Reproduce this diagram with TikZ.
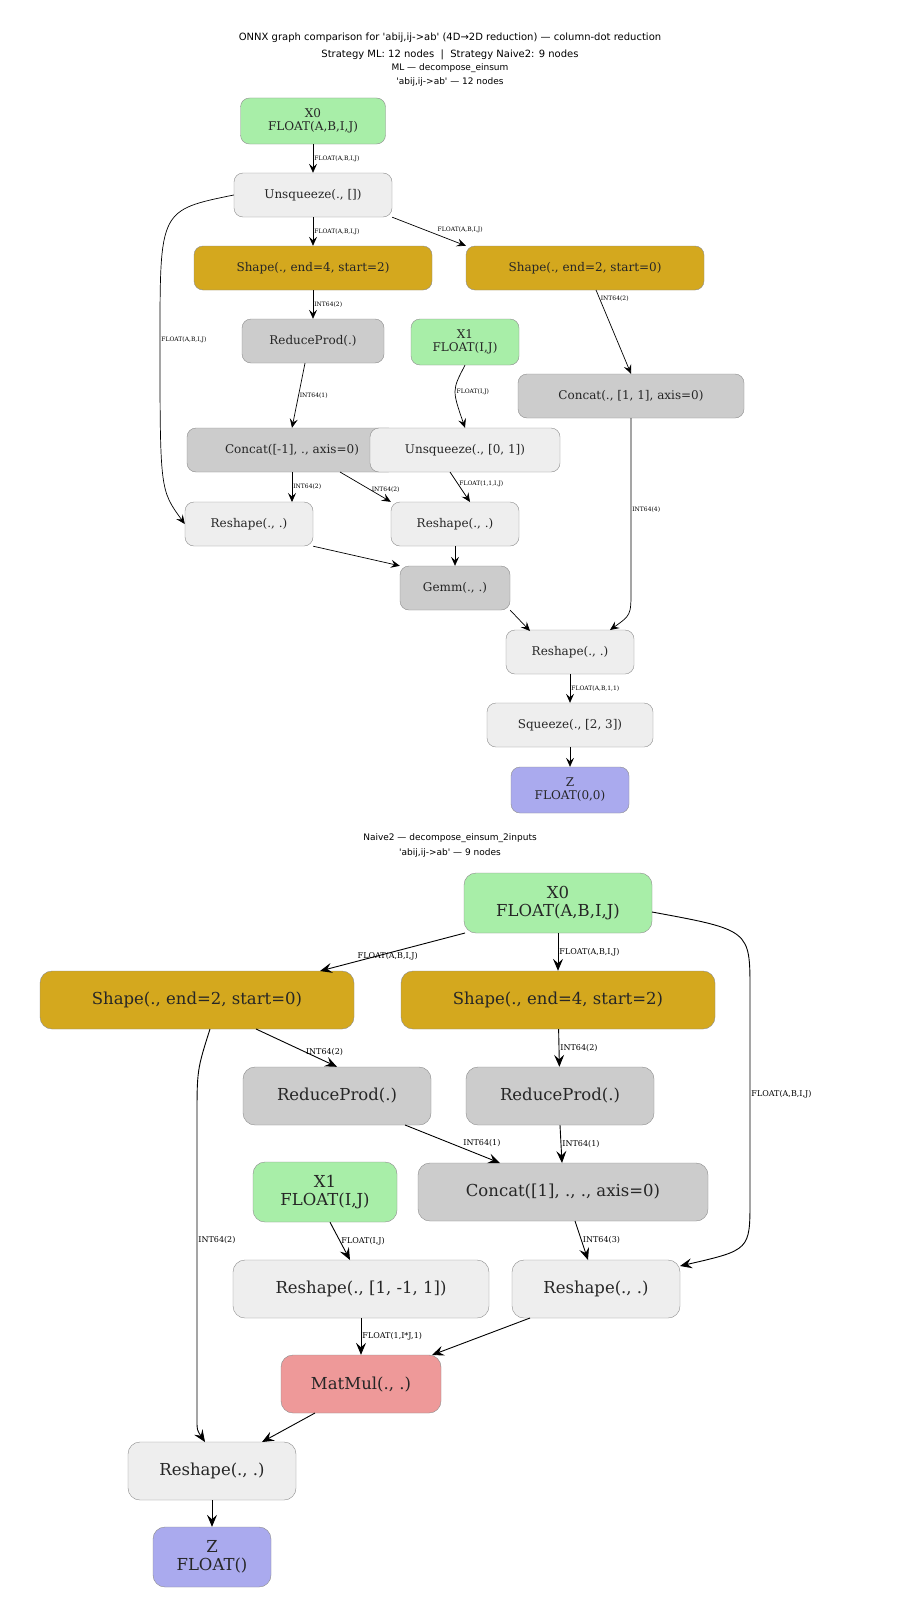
\documentclass[tikz,border=0pt]{standalone}
\usepackage{fontspec}
\setmainfont{DejaVu Serif}
\newfontfamily\ttl{DejaVu Sans}
\usetikzlibrary{arrows.meta}
\definecolor{cg}{HTML}{A8EEA8}
\definecolor{cl}{HTML}{EEEEEE}
\definecolor{cd}{HTML}{CCCCCC}
\definecolor{cy}{HTML}{D4A81E}
\definecolor{cb}{HTML}{AAAAEE}
\definecolor{cr}{HTML}{EE9999}
\begin{document}
\begin{tikzpicture}[x=1pt,y=-1pt,
  nd/.style={draw=black!45,rounded corners=9pt,inner sep=0pt,align=center,font=\fontsize{12}{13}\selectfont,text=black!85},
  ndb/.style={draw=black!45,rounded corners=12pt,inner sep=0pt,align=center,font=\fontsize{16.5}{18}\selectfont,text=black!85},
  ar/.style={-{Stealth[length=9pt,width=8pt,inset=3.5pt]},black,line width=0.7pt},
  arb/.style={-{Stealth[length=12pt,width=10pt,inset=4.5pt]},black,line width=0.9pt},
  el/.style={font=\fontsize{6}{6}\selectfont,inner sep=1pt},
  elb/.style={font=\fontsize{8}{8}\selectfont,inner sep=1pt},
  tt/.style={font=\ttl\fontsize{10}{11}\selectfont,align=center}]
\useasboundingbox[fill=white] (0,0) rectangle (900,1600);
\node[tt] (t1) at (450,38) {ONNX graph comparison for 'abij,ij->ab' (4D→2D reduction) — column-dot reduction};
\node[tt] (t2) at (450,55) {Strategy ML: 12 nodes \ |\ \ Strategy Naive2: 9 nodes};
\node[tt,font=\ttl\fontsize{9}{10}\selectfont] (t3) at (450,68) {ML — decompose\_einsum};
\node[tt,font=\ttl\fontsize{9}{10}\selectfont] (t4) at (450,82) {'abij,ij->ab' — 12 nodes};
\node[tt,font=\ttl\fontsize{9}{10}\selectfont] (t5) at (450,838) {Naive2 — decompose\_einsum\_2inputs};
\node[tt,font=\ttl\fontsize{9}{10}\selectfont] (t6) at (450,853) {'abij,ij->ab' — 9 nodes};
% top
\node[nd,fill=cg,minimum width=145,minimum height=46] (x0) at (313,121) {X0\\FLOAT(A,B,I,J)};
\node[nd,fill=cl,minimum width=158,minimum height=44] (u1) at (313,195) {Unsqueeze(., [])};
\node[nd,fill=cy,minimum width=238,minimum height=44] (s42) at (313,268) {Shape(., end=4, start=2)};
\node[nd,fill=cy,minimum width=238,minimum height=44] (s20) at (585,268) {Shape(., end=2, start=0)};
\node[nd,fill=cd,minimum width=142,minimum height=44] (rp) at (313,341) {ReduceProd(.)};
\node[nd,fill=cg,minimum width=108,minimum height=46] (x1) at (465,342) {X1\\FLOAT(I,J)};
\node[nd,fill=cd,minimum width=226,minimum height=44] (c11) at (631,396) {Concat(., [1, 1], axis=0)};
\node[nd,fill=cd,minimum width=210,minimum height=44] (cm1) at (292,450) {Concat([-1], ., axis=0)};
\node[nd,fill=cl,minimum width=190,minimum height=44] (u01) at (465,450) {Unsqueeze(., [0, 1])};
\node[nd,fill=cl,minimum width=128,minimum height=44] (r1) at (249,524) {Reshape(., .)};
\node[nd,fill=cl,minimum width=128,minimum height=44] (r2) at (455,524) {Reshape(., .)};
\node[nd,fill=cd,minimum width=110,minimum height=44] (gm) at (455,588) {Gemm(., .)};
\node[nd,fill=cl,minimum width=128,minimum height=44] (r3) at (570,652) {Reshape(., .)};
\node[nd,fill=cl,minimum width=166,minimum height=44] (sq) at (570,725) {Squeeze(., [2, 3])};
\node[nd,fill=cb,minimum width=118,minimum height=46] (z) at (570,790) {Z\\FLOAT(0,0)};
\draw[ar] (x0) -- node[el,right]{FLOAT(A,B,I,J)} (u1);
\draw[ar] (u1) -- node[el,right]{FLOAT(A,B,I,J)} (s42);
\draw[ar] (u1.south east) -- node[el,above right,pos=0.6]{FLOAT(A,B,I,J)} (s20.north west);
\draw[ar] (u1.west) .. controls (160,210) .. (160,340) node[el,right]{FLOAT(A,B,I,J)} .. controls (160,490) .. (r1.west);
\draw[ar] (s42) -- node[el,right]{INT64(2)} (rp);
\draw[ar] (596,290) -- node[el,right,pos=0.1]{INT64(2)} (c11.north);
\draw[ar] (rp.south) ++(-8,0) -- node[el,right]{INT64(1)} (cm1.north);
\draw[ar] (x1.south) .. controls (452,390) .. node[el,right]{FLOAT(I,J)} (u01.north);
\draw[ar] (cm1.south) ++(0,0) (292,472) -- node[el,right]{INT64(2)} (292,502);
\draw[ar] (340,472) -- node[el,right,pos=0.6]{INT64(2)} (r2.north west);
\draw[ar] (450,472) -- node[el,right,pos=0.4]{FLOAT(1,1,I,J)} (470,502);
\draw[ar] (r1.south east) -- (gm.north west);
\draw[ar] (r2) -- (gm);
\draw[ar] (gm.south east) -- (530,631);
\draw[ar] (c11.south) -- (631,510) node[el,right]{INT64(4)} -- (631,590) .. controls (631,615) .. (610,630);
\draw[ar] (r3) -- node[el,right]{FLOAT(A,B,1,1)} (sq);
\draw[ar] (sq) -- (z);
% bottom
\node[ndb,fill=cg,minimum width=188,minimum height=60] (bx0) at (558,903) {X0\\FLOAT(A,B,I,J)};
\node[ndb,fill=cy,minimum width=314,minimum height=58] (bs20) at (197,1000) {Shape(., end=2, start=0)};
\node[ndb,fill=cy,minimum width=314,minimum height=58] (bs42) at (558,1000) {Shape(., end=4, start=2)};
\node[ndb,fill=cd,minimum width=188,minimum height=58] (brp1) at (337,1096) {ReduceProd(.)};
\node[ndb,fill=cd,minimum width=188,minimum height=58] (brp2) at (560,1096) {ReduceProd(.)};
\node[ndb,fill=cg,minimum width=144,minimum height=60] (bx1) at (325,1192) {X1\\FLOAT(I,J)};
\node[ndb,fill=cd,minimum width=290,minimum height=58] (bc) at (563,1192) {Concat([1], ., ., axis=0)};
\node[ndb,fill=cl,minimum width=256,minimum height=58] (br1) at (361,1289) {Reshape(., [1, -1, 1])};
\node[ndb,fill=cl,minimum width=168,minimum height=58] (br2) at (596,1289) {Reshape(., .)};
\node[ndb,fill=cr,minimum width=160,minimum height=58] (bmm) at (361,1384) {MatMul(., .)};
\node[ndb,fill=cl,minimum width=168,minimum height=58] (br3) at (212,1471) {Reshape(., .)};
\node[ndb,fill=cb,minimum width=118,minimum height=60] (bz) at (212,1557) {Z\\FLOAT()};
\draw[arb] (465,933) -- node[elb,above right,pos=0.75]{FLOAT(A,B,I,J)} (320,971);
\draw[arb] (bx0) -- node[elb,right]{FLOAT(A,B,I,J)} (bs42);
\draw[arb] (652,912) .. controls (750,930) .. (750,990) -- (750,1094) node[elb,right]{FLOAT(A,B,I,J)} -- (750,1200) .. controls (750,1250) .. (680,1266);
\draw[arb] (256,1029) -- node[elb,right,pos=0.6]{INT64(2)} (brp1.north);
\draw[arb] (210,1029) .. controls (197,1070) .. (197,1120) -- (197,1240) node[elb,right]{INT64(2)} -- (197,1420) .. controls (197,1430) .. (205,1442);
\draw[arb] (bs42) -- node[elb,right]{INT64(2)} (brp2);
\draw[arb] (405,1125) -- node[elb,above right,pos=0.6]{INT64(1)} (500,1163);
\draw[arb] (brp2.south) -- node[elb,right]{INT64(1)} (562,1163);
\draw[arb] (bx1.south) ++(5,0) -- node[elb,right]{FLOAT(I,J)} (350,1260);
\draw[arb] (575,1221) -- node[elb,right]{INT64(3)} (588,1260);
\draw[arb] (br1) -- node[elb,right]{FLOAT(1,I*J,1)} (bmm);
\draw[arb] (530,1318) -- (432,1355);
\draw[arb] (315,1413) -- (262,1442);
\draw[arb] (br3) -- (bz);
\end{tikzpicture}
\end{document}
